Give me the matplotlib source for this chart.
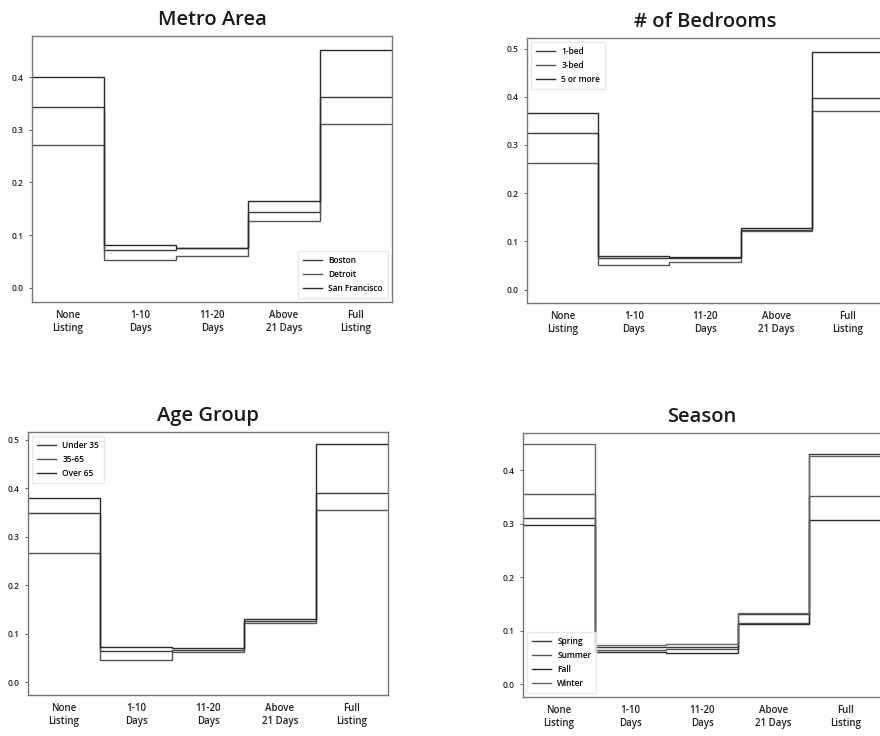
import numpy as np
import matplotlib.pyplot as plt

plt.rcParams['font.family'] = ['Open Sans', 'DejaVu Sans']

stages = ["None\nListing", "1-10\nDays", "11-20\nDays", "Above\n21 Days", "Full\nListing"]

metro_names = ["Boston", "Detroit", "San Francisco"]
metro_boston = [0.343, 0.072, 0.075, 0.144, 0.362]
metro_detroit = [0.271, 0.052, 0.061, 0.126, 0.311]
metro_sf = [0.400, 0.082, 0.076, 0.164, 0.452]

bed_names = ["1-bed", "3-bed", "5 or more"]
bed_1 = [0.324, 0.065, 0.066, 0.124, 0.397]
bed_3 = [0.263, 0.050, 0.057, 0.121, 0.370]
bed_5 = [0.367, 0.069, 0.068, 0.127, 0.493]

age_names = ["Under 35", "35-65", "Over 65"]
age_under35 = [0.349, 0.065, 0.067, 0.127, 0.390]
age_35_65 = [0.267, 0.046, 0.063, 0.123, 0.356]
age_over65 = [0.380, 0.073, 0.070, 0.130, 0.492]

season_names = ["Spring", "Summer", "Fall", "Winter"]
season_spring = [0.311, 0.070, 0.070, 0.131, 0.431]
season_summer = [0.355, 0.064, 0.065, 0.115, 0.353]
season_fall = [0.297, 0.060, 0.059, 0.113, 0.307]
season_winter = [0.449, 0.074, 0.076, 0.133, 0.427]

shades = ["#3a3a3a", "#555555", "#2a2a2a", "#666666"]

W, H = 880, 736
fig = plt.figure(figsize=(W / 100, H / 100), dpi=100)


def panel(box, title, names, series, ylim, yticks, legend_loc):
    left, top, right, bottom = box
    ax = fig.add_axes([left / W, 1 - bottom / H, (right - left) / W, (bottom - top) / H])
    edges = np.arange(len(stages) + 1) - 0.5
    for i, (name, vals) in enumerate(zip(names, series)):
        ax.stairs(vals, edges, baseline=None, color=shades[i], lw=1.0, label=name)
    ax.set_xlim(-0.5, len(stages) - 0.5)
    ax.set_ylim(*ylim)
    ax.set_yticks(yticks)
    ax.set_yticklabels([f"{t:.1f}" for t in yticks], fontweight="semibold")
    ax.set_xticks(range(len(stages)))
    ax.set_xticklabels(stages, fontweight="semibold")
    ax.tick_params(axis='x', length=0, labelsize=7, pad=6, colors="#222222")
    ax.tick_params(axis='y', length=2.5, width=0.6, labelsize=6, colors="#444444",
                   labelcolor="#222222")
    for s in ax.spines.values():
        s.set_color("#777777")
        s.set_linewidth(1.0)
    ax.set_title(title, fontsize=14.5, fontweight="semibold", pad=8, color="#1a1a1a")
    leg = ax.legend(loc=legend_loc, fontsize=6, frameon=True, edgecolor="#e4e4e4",
                    fancybox=False, handlelength=2.2, borderpad=0.6, labelspacing=0.6)
    for t in leg.get_texts():
        t.set_fontweight("semibold")
    return ax


panel((32, 36, 392, 302), "Metro Area", metro_names,
      [metro_boston, metro_detroit, metro_sf],
      (-0.027, 0.478), [0.0, 0.1, 0.2, 0.3, 0.4], "lower right")
panel((527, 38, 883, 303), "# of Bedrooms", bed_names,
      [bed_1, bed_3, bed_5],
      (-0.028, 0.522), [0.0, 0.1, 0.2, 0.3, 0.4, 0.5], "upper left")
panel((28, 432, 388, 695), "Age Group", age_names,
      [age_under35, age_35_65, age_over65],
      (-0.026, 0.516), [0.0, 0.1, 0.2, 0.3, 0.4, 0.5], "upper left")
panel((523, 433, 881, 697), "Season", season_names,
      [season_spring, season_summer, season_fall, season_winter],
      (-0.024, 0.470), [0.0, 0.1, 0.2, 0.3, 0.4], "lower left")

fig.savefig("out.png", dpi=100)
